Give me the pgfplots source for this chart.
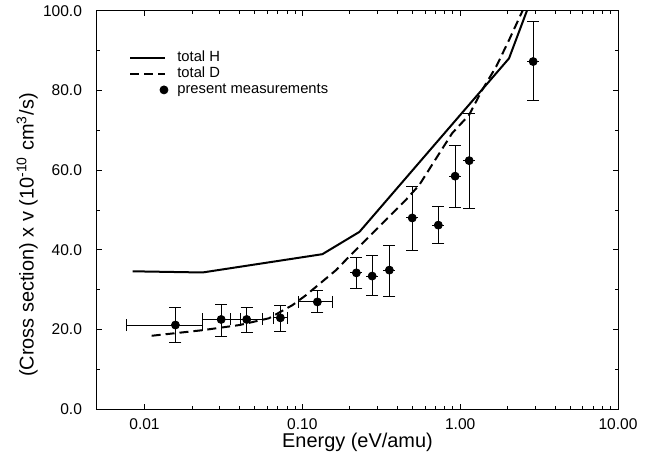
\documentclass[border=0pt]{standalone}
\usepackage{fontspec}
\setmainfont{Liberation Sans}
\usepackage{pgfplots}
\usepackage{pgfplotstable}
\pgfplotsset{compat=1.18}

\pgfplotsset{
  lineleg/.style={legend image code/.code={\draw[##1] (0bp,0bp) -- (17.5bp,0bp);}},
  dotleg/.style={legend image code/.code={\fill (16.9bp,0bp) circle (2bp);}},
}

% theory curves
\pgfplotstableread{
E v
0.0084 34.6
0.0233 34.3
0.134 38.9
0.230 44.5
2.04 88.1
3.00 105.8
}\totalH

\pgfplotstableread{
E v
0.0111 18.4
0.0233 19.8
0.040 21.1
0.0615 22.8
0.0866 26.1
0.1055 28.6
0.1636 34.9
0.198 38.3
0.452 52.5
0.551 56.3
0.737 64.2
0.89 69.3
1.14 73.9
1.38 80.2
1.69 86.0
2.04 92.7
2.5 100.3
2.8 104.9
}\totalD

% measurements: E, value, errors (minus/plus)
\pgfplotstableread{
E v ym yp xm xp
0.0157 21.1 4.4 4.4 0.0080 0.0077
0.0306 22.5 4.2 3.8 0.0073 0.0099
0.0444 22.5 3.3 3.1 0.0094 0.0114
0.0726 22.9 3.5 3.1 0.0072 0.0079
0.1245 26.9 2.7 2.8 0.0302 0.0310
0.220 34.2 4.0 3.9 0 0
0.277 33.4 4.8 5.1 0 0
0.356 34.9 6.7 6.3 0 0
0.497 48.0 8.1 7.9 0 0
0.727 46.2 4.7 4.8 0 0
0.929 58.5 7.8 7.7 0 0
1.14 62.4 11.9 11.9 0 0
2.90 87.3 9.8 10.0 0 0
}\meas

\begin{document}
\begin{tikzpicture}
\begin{axis}[
    at={(0,0)}, anchor=south west,
    scale only axis,
    width=260.5bp, height=199bp,
    xmode=log,
    xmin=0.005, xmax=10,
    ymin=0, ymax=100,
    xtick={0.01,0.1,1,10},
    xticklabels={0.01,0.10,1.00,10.00},
    ytick={0,20,40,60,80,100},
    yticklabels={0.0,20.0,40.0,60.0,80.0,100.0},
    minor ytick={10,30,50,70,90},
    major tick length=2.5bp,
    minor tick length=1.5bp,
    axis line style={line width=0.5bp},
    every tick/.style={black, line width=0.5bp},
    tick label style={font=\fontsize{7.8}{9}\selectfont},
    xticklabel style={yshift=-1.5bp},
    yticklabel style={xshift=-4bp},
    label style={font=\fontsize{10}{12}\selectfont},
    xlabel={Energy (eV/amu)},
    ylabel={(Cross section) x v (10\textsuperscript{-10} cm\textsuperscript{3}/s)},
    xlabel style={at={(axis description cs:0.5,-0.0955)}, anchor=base},
    ylabel style={at={(axis description cs:-0.134,0.437)}, anchor=center},
    legend style={draw=none, fill=none,
        at={(axis description cs:0.061,0.902)}, anchor=north west,
        font=\fontsize{7.4}{8}\selectfont,
        inner sep=0pt, row sep=1bp, column sep=4.5bp,
        nodes={inner sep=0pt, text height=5.5bp, text depth=1.6bp},
        cells={anchor=west}},
]
\addplot[black, line width=1bp, lineleg]
    table[x=E, y=v] {\totalH};
\addlegendentry{total H}

\addplot[black, line width=1bp, dash pattern=on 4.5bp off 2.5bp, lineleg]
    table[x=E, y=v] {\totalD};
\addlegendentry{total D}

\addplot[black, only marks, mark=*, mark size=2bp, dotleg,
    error bars/.cd,
      y dir=both, y explicit,
      x dir=both, x explicit,
      error bar style={line width=0.5bp, black},
      error mark options={rotate=90, mark size=3bp, line width=0.5bp, black},
    ]
    table[x=E, y=v, y error minus=ym, y error plus=yp,
          x error minus=xm, x error plus=xp] {\meas};
\addlegendentry{present measurements}
\end{axis}
\pgfresetboundingbox
\path (-48.5bp,-22bp) rectangle (276.5bp,204.5bp);
\end{tikzpicture}
\end{document}
